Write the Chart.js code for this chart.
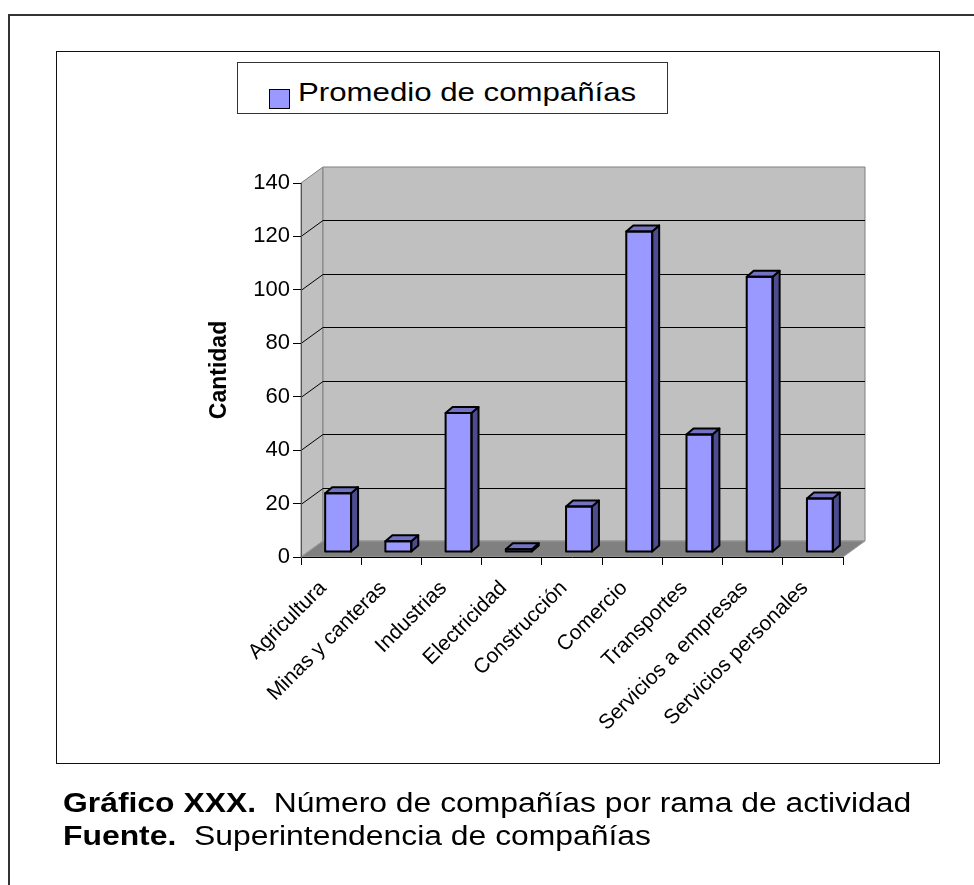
<!DOCTYPE html>
<html>
<head>
<meta charset="utf-8">
<script src="https://cdn.jsdelivr.net/npm/chart.js@4.4.0/dist/chart.umd.min.js"></script>
<style>
html,body{margin:0;padding:0;background:#fff;width:974px;height:885px;overflow:hidden;font-family:"Liberation Sans",Arial,sans-serif;}
#outer{position:absolute;left:8px;top:14px;width:990px;height:900px;border:2px solid #333;box-sizing:border-box;}
#inner{position:absolute;left:56px;top:51px;width:884px;height:713px;border:1px solid #111;box-sizing:border-box;}
#wrap{position:absolute;left:0;top:0;width:974px;height:885px;}
#legend{position:absolute;left:237px;top:62px;width:431px;height:52px;border:1px solid #333;box-sizing:border-box;background:#fff;}
#swatch{position:absolute;left:269px;top:89px;width:21px;height:20px;background:#9999FF;border:1.5px solid #000;box-sizing:border-box;}
#legtext{position:absolute;left:298px;top:77px;font-size:26px;line-height:30px;white-space:nowrap;transform:scaleX(1.2);transform-origin:0 0;color:#000;}
.cap{position:absolute;left:63px;font-size:27px;line-height:33px;white-space:nowrap;transform:scaleX(1.18);transform-origin:0 0;color:#000;}
.cap b{font-weight:bold;}
</style>
</head>
<body>
<div id="outer"></div>
<div id="inner"></div>
<div id="wrap"><canvas id="c" width="974" height="885"></canvas></div>
<div id="legend"></div>
<div id="swatch"></div>
<div id="legtext"></div>
<div class="cap" id="cap1" style="top:787px;"></div>
<div class="cap" id="cap2" style="top:820px;"></div>
<script>
// ---- data ----
const categories = ['Agricultura', 'Minas y canteras', 'Industrias', 'Electricidad', 'Construcción', 'Comercio', 'Transportes', 'Servicios a empresas', 'Servicios personales'];
const values = [22, 4, 52, 1, 17, 120, 44, 103, 20];
const yTicks = [0, 20, 40, 60, 80, 100, 120, 140];
const seriesName = 'Promedio de compañías';
const yTitle = 'Cantidad';
const captionBold1 = 'Gráfico XXX.';
const captionText1 = 'Número de compañías por rama de actividad';
const captionBold2 = 'Fuente.';
const captionText2 = 'Superintendencia de compañías';

document.getElementById('legtext').textContent = seriesName;
document.getElementById('cap1').innerHTML = '<b>' + captionBold1 + '</b>&nbsp; ' + captionText1;
document.getElementById('cap2').innerHTML = '<b>' + captionBold2 + '</b>&nbsp; ' + captionText2;

// ---- 3D look ----
const WALL_DX = 22, WALL_DY = -16;
const BAR_SHIFT_X = 7, BAR_SHIFT_Y = -5;
const BAR_DX = 7, BAR_DY = -6;

const wallsPlugin = {
  id: 'walls3d',
  beforeDraw(chart) {
    const ctx = chart.ctx;
    const {left, right, top, bottom} = chart.chartArea;
    const ys = chart.scales.y;
    ctx.save();
    // left side wall
    ctx.beginPath();
    ctx.moveTo(left, bottom);
    ctx.lineTo(left, top);
    ctx.lineTo(left + WALL_DX, top + WALL_DY);
    ctx.lineTo(left + WALL_DX, bottom + WALL_DY);
    ctx.closePath();
    ctx.fillStyle = '#C0C0C0';
    ctx.fill();
    ctx.strokeStyle = '#808080';
    ctx.lineWidth = 1;
    ctx.stroke();
    // back wall
    ctx.beginPath();
    ctx.rect(left + WALL_DX, top + WALL_DY, right - left, bottom - top);
    ctx.fillStyle = '#C0C0C0';
    ctx.fill();
    ctx.strokeStyle = '#808080';
    ctx.stroke();
    // floor
    ctx.beginPath();
    ctx.moveTo(left, bottom);
    ctx.lineTo(right, bottom);
    ctx.lineTo(right + WALL_DX, bottom + WALL_DY);
    ctx.lineTo(left + WALL_DX, bottom + WALL_DY);
    ctx.closePath();
    ctx.fillStyle = '#808080';
    ctx.fill();
    ctx.strokeStyle = '#9a9a9a';
    ctx.stroke();
    // gridlines
    ys.ticks.forEach(t => {
      if (t.value <= ys.min || t.value >= ys.max) return;
      const y = Math.round(ys.getPixelForValue(t.value)) + 0.5;
      ctx.beginPath();
      ctx.moveTo(left, y);
      ctx.lineTo(left + WALL_DX, y + WALL_DY);
      ctx.lineTo(right + WALL_DX, y + WALL_DY);
      ctx.strokeStyle = '#000';
      ctx.lineWidth = 1;
      ctx.stroke();
    });
    ctx.restore();
  },
  beforeDatasetDraw(chart) {
    chart.ctx.save();
    chart.ctx.translate(BAR_SHIFT_X, BAR_SHIFT_Y);
  },
  afterDatasetDraw(chart, args) {
    const ctx = chart.ctx;
    const meta = args.meta;
    meta.data.forEach(el => {
      const p = el.getProps(['x', 'y', 'base', 'width'], true);
      const l = p.x - p.width / 2, r = p.x + p.width / 2;
      ctx.lineJoin = 'round';
      ctx.lineWidth = 2;
      ctx.strokeStyle = '#000';
      // side face
      ctx.beginPath();
      ctx.moveTo(r, p.y);
      ctx.lineTo(r + BAR_DX, p.y + BAR_DY);
      ctx.lineTo(r + BAR_DX, p.base + BAR_DY);
      ctx.lineTo(r, p.base);
      ctx.closePath();
      ctx.fillStyle = '#4C4C8F';
      ctx.fill();
      ctx.stroke();
      // top face
      ctx.beginPath();
      ctx.moveTo(l, p.y);
      ctx.lineTo(l + BAR_DX, p.y + BAR_DY);
      ctx.lineTo(r + BAR_DX, p.y + BAR_DY);
      ctx.lineTo(r, p.y);
      ctx.closePath();
      ctx.fillStyle = '#7373C4';
      ctx.fill();
      ctx.stroke();
      // front outline
      ctx.strokeRect(l, p.y, p.width, p.base - p.y);
    });
    ctx.restore();
  }
};

const FONT = 'Liberation Sans';

new Chart(document.getElementById('c'), {
  type: 'bar',
  data: {
    labels: categories,
    datasets: [{
      label: seriesName,
      data: values,
      backgroundColor: '#9999FF',
      borderColor: '#000',
      borderWidth: 0,
      barPercentage: 0.43,
      categoryPercentage: 1.0,
      clip: false
    }]
  },
  options: {
    responsive: false,
    maintainAspectRatio: false,
    animation: false,
    layout: {padding: {left: 0, right: 131, top: 183, bottom: 128}},
    plugins: {legend: {display: false}, tooltip: {enabled: false}},
    scales: {
      x: {
        type: 'category',
        ticks: {color: '#000', font: {family: FONT, size: 21}, minRotation: 45, maxRotation: 45, autoSkip: false, padding: 11, labelOffset: -8},
        grid: {offset: true, drawOnChartArea: false, drawTicks: true, tickLength: 8, tickColor: '#000', lineWidth: 1},
        border: {display: true, color: '#000', width: 1},
        afterFit: s => { s.height = 200; }
      },
      y: {
        min: yTicks[0],
        max: yTicks[yTicks.length - 1],
        afterBuildTicks: s => { s.ticks = yTicks.map(v => ({value: v})); },
        ticks: {color: '#000', font: {family: FONT, size: 22}, padding: 3},
        grid: {drawOnChartArea: false, drawTicks: true, tickLength: 8, tickColor: '#000', lineWidth: 1},
        border: {display: true, color: '#555', width: 1},
        title: {display: true, text: yTitle, color: '#000', font: {family: FONT, size: 23, weight: 'bold'}, padding: {top: 206, bottom: 0}},
        afterFit: s => { s.width = 301; }
      }
    }
  },
  plugins: [wallsPlugin]
});
</script>
</body>
</html>
